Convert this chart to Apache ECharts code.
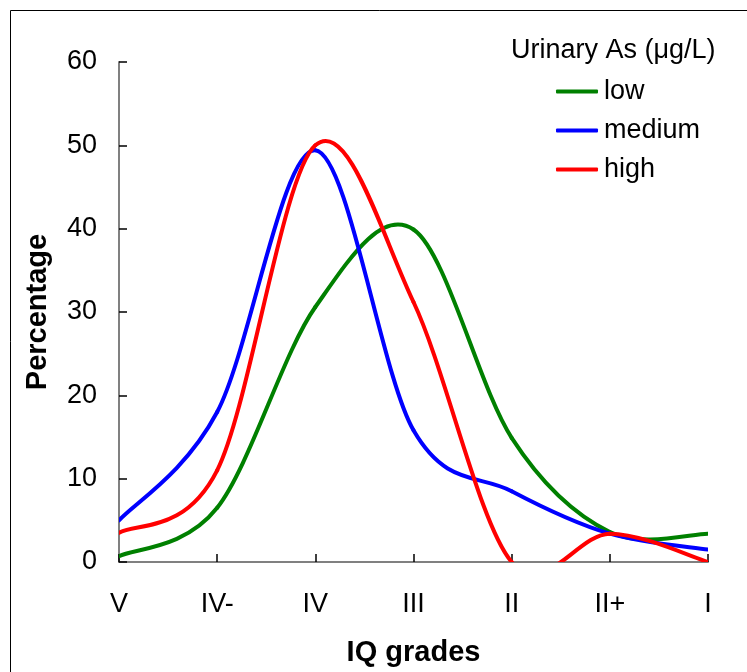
<!DOCTYPE html>
<html>
<head>
<meta charset="utf-8">
<script src="https://cdn.jsdelivr.net/npm/echarts@6/dist/echarts.min.js"></script>
<style>
html,body{margin:0;padding:0;background:#fff;}
#chart{width:747px;height:672px;}
</style>
</head>
<body>
<div id="chart"></div>
<script>
// ---- data ----
var categories = ['V', 'IV-', 'IV', 'III', 'II', 'II+', 'I'];
var lowValues    = [0.7, 6.5, 30.6, 39.9, 14.9, 3.6, 3.4];
var mediumValues = [5.0, 18.0, 49.4, 15.8, 8.5, 3.4, 1.5];
var highValues   = [3.5, 11.0, 50.0, 31.2, 0.0, 3.4, 0.0];
var seriesNames  = ['low', 'medium', 'high'];
var seriesColors = ['#008000', '#0000FF', '#FF0000'];
var yTicks = { min: 0, max: 60, interval: 10 };

var seriesValues = [lowValues, mediumValues, highValues];

function makeRender(vals, color) {
  return function (params, api) {
    var i = params.dataIndex;
    var n = vals.length;
    if (i >= n - 1) return null;
    var k0 = Math.max(i - 1, 0), k3 = Math.min(i + 2, n - 1);
    var p0 = api.coord([k0, vals[k0]]);
    var p1 = api.coord([i, vals[i]]);
    var p2 = api.coord([i + 1, vals[i + 1]]);
    var p3 = api.coord([k3, vals[k3]]);
    return {
      type: 'bezierCurve',
      shape: {
        x1: p1[0], y1: p1[1],
        x2: p2[0], y2: p2[1],
        cpx1: p1[0] + (p2[0] - p0[0]) / 6,
        cpy1: p1[1] + (p2[1] - p0[1]) / 6,
        cpx2: p2[0] - (p3[0] - p1[0]) / 6,
        cpy2: p2[1] - (p3[1] - p1[1]) / 6
      },
      style: { stroke: color, lineWidth: 4, fill: null, lineCap: 'round' }
    };
  };
}

var series = seriesValues.map(function (vals, s) {
  return {
    name: seriesNames[s],
    type: 'custom',
    clip: true,
    coordinateSystem: 'cartesian2d',
    encode: { x: 0, y: 1 },
    itemStyle: { color: seriesColors[s] },
    data: vals.map(function (v, i) { return [i, v]; }),
    renderItem: makeRender(vals, seriesColors[s])
  };
});

var chart = echarts.init(document.getElementById('chart'), null, { renderer: 'canvas' });
chart.setOption({
  animation: false,
  backgroundColor: '#fff',
  title: {
    text: 'Urinary As (\u03bcg/L)',
    left: 511, top: 37,
    padding: 0,
    textStyle: { fontFamily: 'Liberation Sans', fontSize: 27, fontWeight: 'normal', color: '#000' }
  },
  legend: {
    orient: 'vertical',
    left: 556, top: 78,
    padding: 0,
    itemWidth: 42, itemHeight: 4,
    itemGap: 12,
    icon: 'roundRect',
    textStyle: { fontFamily: 'Liberation Sans', fontSize: 27, color: '#000', lineHeight: 26, padding: [0, 0, 0, 1] },
    data: seriesNames
  },
  graphic: [{
    type: 'rect',
    shape: { x: 10.5, y: 10.5, width: 800, height: 800 },
    style: { fill: null, stroke: '#000', lineWidth: 1 },
    silent: true
  }],
  grid: { left: 119, right: 39, top: 62, bottom: 110, containLabel: false },
  xAxis: {
    type: 'category',
    data: categories,
    boundaryGap: false,
    name: 'IQ grades',
    nameLocation: 'middle',
    nameGap: 76,
    nameTextStyle: { fontFamily: 'Liberation Sans', fontSize: 29, fontWeight: 'bold', color: '#000' },
    axisLine: { show: true, lineStyle: { color: '#808080', width: 2 } },
    axisTick: { show: true, inside: true, length: 8, alignWithLabel: true, lineStyle: { color: '#000', width: 1.5 } },
    axisLabel: { margin: 29, fontFamily: 'Liberation Sans', fontSize: 27, color: '#000' },
    splitLine: { show: false }
  },
  yAxis: {
    type: 'value',
    min: yTicks.min, max: yTicks.max, interval: yTicks.interval,
    name: 'Percentage',
    nameLocation: 'middle',
    nameGap: 67,
    nameRotate: 90,
    nameTextStyle: { fontFamily: 'Liberation Sans', fontSize: 29, fontWeight: 'bold', color: '#000' },
    axisLine: { show: true, lineStyle: { color: '#808080', width: 2 } },
    axisTick: { show: true, inside: true, length: 8, lineStyle: { color: '#000', width: 1.5 } },
    axisLabel: { margin: 22, fontFamily: 'Liberation Sans', fontSize: 27, color: '#000' },
    splitLine: { show: false }
  },
  series: series
});
</script>
</body>
</html>
